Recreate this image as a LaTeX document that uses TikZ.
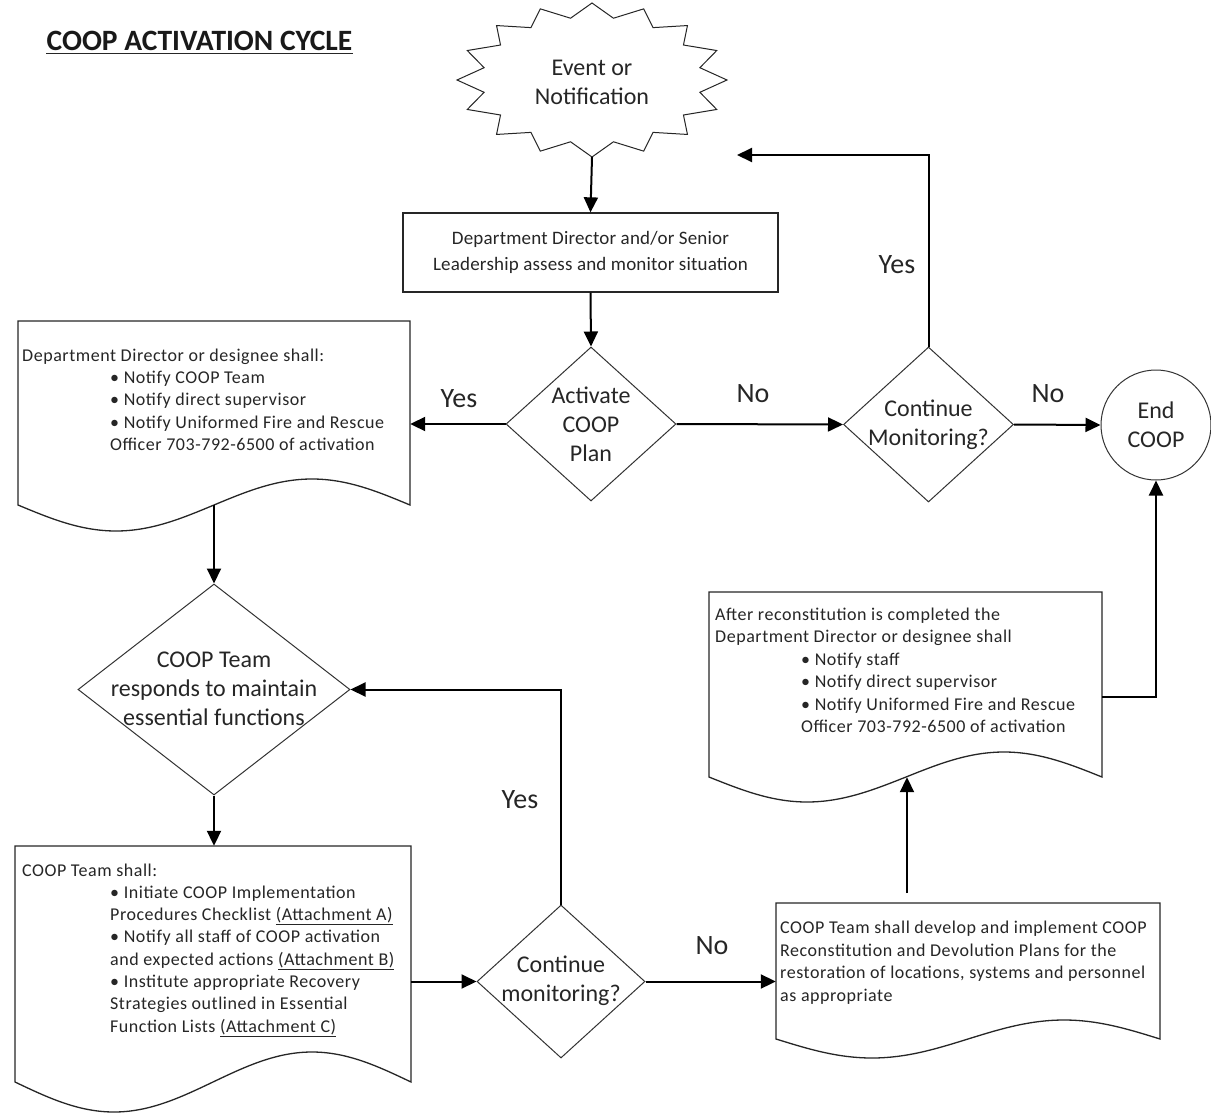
\documentclass[tikz,border=0pt]{standalone}
\usepackage{fontspec}
\setmainfont{Carlito}
\newfontfamily\bodyfont[LetterSpace=3]{Carlito}
\newfontfamily\boxfont[LetterSpace=1]{Carlito}
\usetikzlibrary{arrows.meta,shapes.geometric}
\tikzset{
  outline/.style={draw=black!85, line width=1.3pt, fill=white},
  conn/.style={draw=black, line width=2pt, -{Triangle[length=15pt,width=14pt]}},
  dia/.style={diamond, draw=black!80, line width=1pt, inner sep=0pt, fill=white},
  big/.style={font=\fontsize{24}{29}\selectfont, align=center, text=black!85, inner sep=0pt},
  lab/.style={font=\fontsize{28}{32}\selectfont, text=black!85, inner sep=0pt},
  body/.style={font=\bodyfont\fontsize{18}{22}\selectfont, text=black!85, anchor=base west, inner sep=0pt},
  hole/.style={rectangle, inner sep=0pt},
}
\begin{document}
\begin{tikzpicture}[x=1pt, y=-1pt]
\useasboundingbox (0,0) rectangle (1211,1114);

% title
\node[font=\bfseries\fontsize{29.5}{33}\selectfont, inner sep=0pt, anchor=base, text=black!90] (title) at (199.5,50) {COOP ACTIVATION CYCLE};
\draw[line width=1.8pt, black!85] ([yshift=-3.5pt]title.base west) -- ([yshift=-3.5pt]title.base east);

% event star
\node[ellipse, minimum width=270pt, minimum height=154pt, inner sep=0pt] (ev) at (592,80) {};
\draw[outline, line width=1pt] plot[samples at={0,...,31}, variable=\k]
  ({592+ifthenelse(mod(\k,2)==0,135,110)*cos(90+11.25*\k)},
   {80-ifthenelse(mod(\k,2)==0,77,63)*sin(90+11.25*\k)}) -- cycle;
\node[big] (evt) at (592,82) {Event or\\Notification};

% box 1
\node[outline, rectangle, minimum width=375pt, minimum height=79pt, inner sep=0pt,
      font=\boxfont\fontsize{19}{26}\selectfont, align=center, text=black!85] (b1) at (590.5,252.5)
  {Department Director and/or Senior\\Leadership assess and monitor situation};

% diamonds
\node[dia, minimum width=170pt, minimum height=154pt] (d1) at (591,424) {};
\node[big] (d1t) at (591,424) {Activate\\COOP\\Plan};
\node[dia, minimum width=170pt, minimum height=155pt] (d4) at (928.5,424.5) {};
\node[big] (d4t) at (928.5,424.5) {Continue\\Monitoring?};
\node[dia, minimum width=272pt, minimum height=211pt] (d2) at (214,689.5) {};
\node[big] (d2t) at (214,689) {COOP Team\\responds to maintain\\essential functions};
\node[dia, minimum width=168pt, minimum height=153pt] (d3) at (561,981.5) {};
\node[big] (d3t) at (561,981) {Continue\\monitoring?};

% end circle
\node[circle, draw=black!80, line width=1pt, minimum size=110pt, big] (end) at (1156,425) {End\\COOP};

% document shapes
\node[hole, minimum width=392pt, minimum height=184pt] (doc1) at (214,413) {};
\draw[outline] (18,321) -- (410,321) -- (410,505) sin (312,479) cos (214,505) sin (116,531) cos (18,505) -- cycle;
\node[hole, minimum width=396pt, minimum height=236pt] (doc2) at (213,964) {};
\draw[outline] (15,846) -- (411,846) -- (411,1082) sin (312,1052) cos (213,1082) sin (114,1112) cos (15,1082) -- cycle;
\node[hole, minimum width=384pt, minimum height=136pt] (doc3) at (968,971) {};
\draw[outline] (776,903) -- (1160,903) -- (1160,1039) sin (1064,1020) cos (968,1039) sin (872,1058) cos (776,1039) -- cycle;
\node[hole, minimum width=393pt, minimum height=185pt] (doc4) at (905.5,684.5) {};
\draw[outline] (709,592) -- (1102,592) -- (1102,777) sin (1004,752) cos (906,777) sin (807,802) cos (709,777) -- cycle;

% doc1 text
\node[body] (t1a) at (22,361) {Department Director or designee shall:};
\node[body] (t1b) at (110,383) {• Notify COOP Team};
\node[body] (t1c) at (110,405) {• Notify direct supervisor};
\node[body] (t1d) at (110,428) {• Notify Uniformed Fire and Rescue};
\node[body] (t1e) at (110,450) {Officer 703-792-6500 of activation};

% doc2 text
\node[body] (t2a) at (22,876) {COOP Team shall:};
\node[body] (t2b) at (110,898) {• Initiate COOP Implementation};
\node[body] (t2c) at (110,920) {Procedures Checklist \underline{(Attachment A)}};
\node[body] (t2d) at (110,942) {• Notify all staff of COOP activation};
\node[body] (t2e) at (110,965) {and expected actions \underline{(Attachment B)}};
\node[body] (t2f) at (110,987) {• Institute appropriate Recovery};
\node[body] (t2g) at (110,1009) {Strategies outlined in Essential};
\node[body] (t2h) at (110,1032) {Function Lists \underline{(Attachment C)}};

% doc3 text
\node[body] (t3a) at (780,933) {COOP Team shall develop and implement COOP};
\node[body] (t3b) at (780,956) {Reconstitution and Devolution Plans for the};
\node[body] (t3c) at (780,978) {restoration of locations, systems and personnel};
\node[body] (t3d) at (780,1001) {as appropriate};

% doc4 text
\node[body] (t4a) at (715,620) {After reconstitution is completed the};
\node[body] (t4b) at (715,642) {Department Director or designee shall};
\node[body] (t4c) at (801,665) {• Notify staff};
\node[body] (t4d) at (801,687) {• Notify direct supervisor};
\node[body] (t4e) at (801,710) {• Notify Uniformed Fire and Rescue};
\node[body] (t4f) at (801,732) {Officer 703-792-6500 of activation};

% labels
\node[lab] (l1) at (459,399) {Yes};
\node[lab] (l2) at (753,394) {No};
\node[lab] (l3) at (1048,394) {No};
\node[lab] (l4) at (897,265) {Yes};
\node[lab] (l5) at (520,800) {Yes};
\node[lab] (l6) at (712,946) {No};

% connectors
\coordinate (ret) at (737,155);
\coordinate (c3) at (907,893);
\draw[conn] (ev.south) -- (b1.north);
\draw[conn] (b1.south) -- (d1.north);
\draw[conn] (d1.west) -- (d1.west -| doc1.east);
\draw[conn] (d2.north |- doc1.south) -- (d2.north);
\draw[conn] (d2.south) -- (d2.south |- doc2.north);
\draw[conn] (d3.west -| doc2.east) -- (d3.west);
\draw[conn] (d3.north) |- (d2.east);
\draw[conn] (d3.east) -- (d3.east -| doc3.west);
\draw[conn] (c3) -- (c3 |- doc4.south);
\draw[conn] ([yshift=-12.5pt]doc4.east) -| (end.south);
\draw[conn] (d1.east) -- (d4.west);
\draw[conn] (d4.east) -- (end.west);
\draw[conn] (d4.north) |- (ret);
\end{tikzpicture}
\end{document}
